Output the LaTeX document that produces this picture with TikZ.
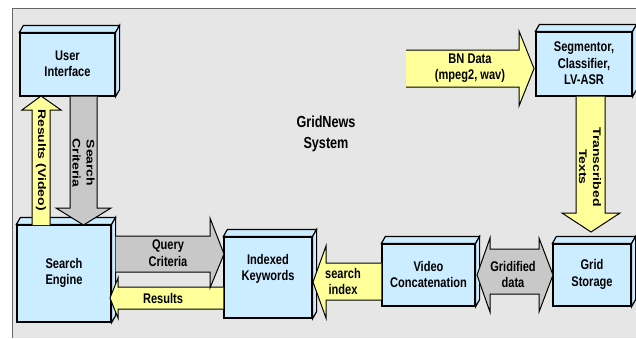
\documentclass[tikz,border=0pt]{standalone}
\usepackage{fontspec}
\setmainfont{Liberation Sans}[FakeStretch=0.79]
\newfontfamily\vfam{Liberation Sans}[FakeStretch=1.27]
\definecolor{panelgray}{RGB}{230,230,230}
\definecolor{boxblue}{RGB}{204,236,255}
\definecolor{arrowyellow}{RGB}{255,255,153}
\definecolor{arrowgray}{RGB}{200,200,200}
\newcommand\hfnt{\bfseries\fontsize{14}{16.5}\selectfont}
\newcommand\vfnt{\vfam\bfseries\fontsize{11}{14}\selectfont}
\newcommand\ttlfnt{\bfseries\fontsize{16}{21}\selectfont}
\tikzset{
  box/.style={draw, line width=1.2pt, fill=boxblue, inner sep=0pt},
  face/.style={draw, line width=1.2pt, fill=boxblue, line join=miter},
  aline/.style={draw, line width=1pt, line join=miter},
  lbl/.style={align=center, font=\hfnt, inner sep=0pt},
  vlbl/.style={align=center, font=\vfnt, rotate=-90, inner sep=0pt},
}
% 3-D box: name, cx, cy, width, height, text y, text
\newcommand\dbox[7]{%
  \node[box, minimum width=#4pt, minimum height=#5pt] (#1) at (#2,#3) {};
  \draw[face] (#1.north west) -- ++(4,-7) -- ([xshift=4pt,yshift=7pt]#1.north east) -- (#1.north east) -- cycle;
  \draw[face] (#1.north east) -- ([xshift=4pt,yshift=7pt]#1.north east) -- ([xshift=4pt,yshift=7pt]#1.south east) -- (#1.south east) -- cycle;
  \node[lbl] (#1-t) at (#2,#6) {#7};
}
% block arrow: fill colour, open outline path
\newcommand\barrow[2]{%
  \fill[#1] #2 -- cycle;
  \draw[aline] #2;
}
\begin{document}
\begin{tikzpicture}[x=1pt,y=-1pt]
\useasboundingbox (0,0) rectangle (636,338);
\fill[white] (0,0) rectangle (636,338);
\fill[panelgray] (12,8) rectangle (636,338);
\draw[black!60, line width=0.8pt] (12,338) -- (12,8) -- (636,8);

% boxes
\dbox{ui}{67.5}{64.5}{95}{63}{63.5}{User\\Interface}
\dbox{se}{64}{273.5}{94}{97}{273}{Search\\Engine}
\dbox{ik}{268}{277.5}{88}{81}{269}{Indexed\\Keywords}
\dbox{vc}{428.5}{275}{93}{62}{274.5}{Video\\Concatenation}
\dbox{gs}{592}{275}{78}{62}{274.5}{Grid\\Storage}
\dbox{seg}{584}{64}{96}{64}{63.5}{Segmentor,\\Classifier,\\LV-ASR}

% title
\node[align=center, font=\ttlfnt, inner sep=0pt] (title) at (326,134) {GridNews\\System};

% Results (Video): search engine -> user interface
\barrow{arrowyellow}{(32,225) -- (32,110) -- (22,110) -- (41,96) -- (61,110) -- (50,110) -- (50,225)}
\node[vlbl] (resv) at (41,160) {Results (Video)};

% Search Criteria: user interface -> search engine
\barrow{arrowgray}{(70,96.6) -- (70,208) -- (56,208) -- (83.5,225) -- (111,208) -- (97,208) -- (97,96.6)}
\node[vlbl] (scrit) at (83.5,163) {Search\\Criteria};

% BN Data -> segmentor
\barrow{arrowyellow}{(406,50) -- (519,50) -- (519,31) -- (534,68.5) -- (519,106) -- (519,87) -- (406,87)}
\node[lbl] (bn) at (470,68) {BN Data\\(mpeg2, wav)};

% Transcribed Texts: segmentor -> grid storage
\barrow{arrowyellow}{(576,96.6) -- (576,213) -- (562,213) -- (591,232) -- (620,213) -- (605,213) -- (605,96.6)}
\node[vlbl] (trans) at (590,167) {Transcribed\\Texts};

% Results: indexed keywords -> search engine
\barrow{arrowyellow}{(223.4,287) -- (118,287) -- (118,278) -- (110,298) -- (118,318) -- (118,309) -- (223.4,309)}
\node[lbl] (res) at (163,298) {Results};

% Query Criteria: search engine -> indexed keywords
\barrow{arrowgray}{(115.6,236) -- (210,236) -- (210,218) -- (224,254) -- (210,288) -- (210,272) -- (115.6,272)}
\node[lbl] (qc) at (168,253) {Query\\Criteria};

% search index: video concatenation -> indexed keywords
\barrow{arrowyellow}{(381.4,263) -- (326,263) -- (326,246) -- (313,282) -- (326,318) -- (326,300) -- (381.4,300)}
\node[lbl] (si) at (343,281.5) {search\\index};

% Gridified data: video concatenation <-> grid storage
\filldraw[fill=arrowgray, aline] (477,275) -- (490,238) -- (490,249) -- (539,249) -- (539,238) -- (553,275) -- (539,312) -- (539,294) -- (490,294) -- (490,312) -- cycle;
\node[lbl] (gd) at (513,274.5) {Gridified\\data};
\end{tikzpicture}
\end{document}
